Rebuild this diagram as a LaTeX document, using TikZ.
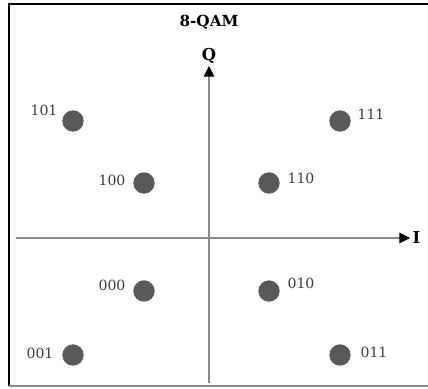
\documentclass[tikz,border=0pt]{standalone}
\usepackage{fontspec}
\setmainfont{DejaVu Serif}
\usetikzlibrary{arrows.meta}
\definecolor{dotgray}{HTML}{595959}
\definecolor{axisgray}{HTML}{8A8A8A}
\definecolor{textgray}{HTML}{3A3A3A}
\tikzset{
    symbol/.style={circle,fill=dotgray,minimum size=0.64cm,inner sep=0pt},
    bits/.style={text=textgray,font=\fontsize{12}{14}\selectfont,inner sep=1pt},
    axislabel/.style={font=\fontsize{14}{16}\selectfont\bfseries,inner sep=2pt},
    axis/.style={draw=axisgray,line width=0.9pt,-{Triangle[length=9pt,width=9pt,color=black]}}
}
\begin{document}
\begin{tikzpicture}[x=0.03cm,y=-0.03cm]
        \useasboundingbox (0,0) rectangle (428,388);
        %% Frame
        \draw[line width=2pt] (9,386) -- (9,4) -- (428,4);
        \draw[axisgray,line width=1pt] (9,386) -- (428,386);
        %% Axes
        \coordinate (iStart) at (16,238);
        \coordinate (iEnd) at (410,238);
        \coordinate (qStart) at (209,383);
        \coordinate (qEnd) at (209,66);
        \draw[axis] (iStart) -- (iEnd);
        \draw[axis] (qStart) -- (qEnd);
        \node[axislabel,anchor=west] (iLabel) at (iEnd) {I};
        \node[axislabel,anchor=south] (qLabel) at (qEnd) {Q};
        \node[font=\fontsize{13}{15}\selectfont\bfseries] (title) at (209,22) {8-QAM};
        %% Symbols
        \node[symbol] (s101) at (73,121) {};
        \node[symbol] (s111) at (340,121) {};
        \node[symbol] (s100) at (144,183) {};
        \node[symbol] (s110) at (269,183) {};
        \node[symbol] (s000) at (144,291) {};
        \node[symbol] (s010) at (269,291) {};
        \node[symbol] (s001) at (73,355) {};
        \node[symbol] (s011) at (340,355) {};
        %% Bit labels
        \node[bits] (b101) at (44,110) {101};
        \node[bits] (b111) at (371,114) {111};
        \node[bits] (b100) at (112,180) {100};
        \node[bits] (b110) at (301,178) {110};
        \node[bits] (b000) at (112,285) {000};
        \node[bits] (b010) at (301,283) {010};
        \node[bits] (b001) at (40,353) {001};
        \node[bits] (b011) at (374,352) {011};
    \end{tikzpicture}
\end{document}
